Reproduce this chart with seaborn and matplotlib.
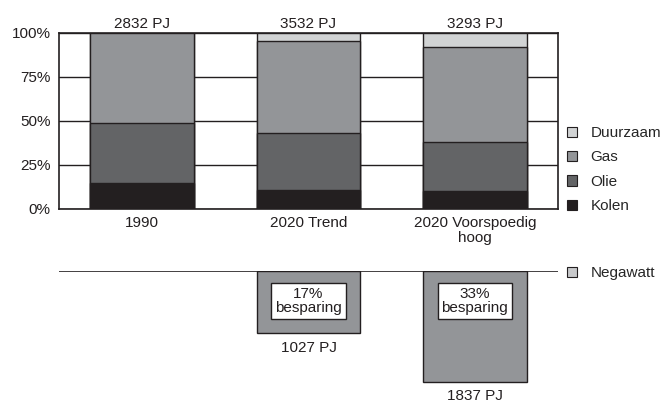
import matplotlib
matplotlib.use("Agg")
import matplotlib.pyplot as plt
from matplotlib.patches import Patch
import seaborn as sns
import pandas as pd
import numpy as np

sns.set_theme(style="white")
plt.rcParams['font.family'] = ['Liberation Sans', 'DejaVu Sans']

# ---- data ----
categories = ["1990", "2020 Trend", "2020 Voorspoedig\nhoog"]
kolen = [15, 11, 10]
olie = [34, 32, 28]
gas = [51, 52.5, 54]
duurzaam = [0, 4.5, 8]
totals_pj = ["2832 PJ", "3532 PJ", "3293 PJ"]
negawatt = [np.nan, 1027, 1837]
negawatt_labels = ["", "1027 PJ", "1837 PJ"]
besparing = ["", "17%\nbesparing", "33%\nbesparing"]
series_names = ["Duurzaam", "Gas", "Olie", "Kolen"]
colors = {"Duurzaam": "#d1d3d4", "Gas": "#939598", "Olie": "#636466", "Kolen": "#231f20"}
negawatt_color = "#939598"
negawatt_legend_color = "#c8c9cb"

FS = 11
W, H = 671, 403
fig = plt.figure(figsize=(W / 100, H / 100), dpi=100)

def axes_px(x0, y0, x1, y1):
    return fig.add_axes([x0 / W, 1 - y1 / H, (x1 - x0) / W, (y1 - y0) / H])

ax = axes_px(59, 33, 558, 209)
ax2 = axes_px(59, 271, 558, 391)

# cumulative stacks
k = np.array(kolen)
o = k + np.array(olie)
g = o + np.array(gas)
d = g + np.array(duurzaam)
layers = [("Duurzaam", d), ("Gas", g), ("Olie", o), ("Kolen", k)]
for name, vals in layers:
    df = pd.DataFrame({"cat": categories, "val": vals})
    sns.barplot(data=df, x="cat", y="val", color=colors[name], width=0.625,
                edgecolor="#231f20", linewidth=1.0, saturation=1, ax=ax, zorder=3)

ax.set_xlim(-0.5, 2.5)
ax.set_ylim(0, 100)
ax.set_yticks([0, 25, 50, 75, 100])
ax.set_yticklabels(["0%", "25%", "50%", "75%", "100%"])
ax.set_xlabel("")
ax.set_ylabel("")
ax.yaxis.grid(True, color="#231f20", linewidth=1.0)
ax.set_axisbelow(True)
for s in ax.spines.values():
    s.set_color("#231f20")
    s.set_linewidth(1.2)
ax.tick_params(axis="both", length=0, labelsize=FS, colors="#231f20")
ax.tick_params(axis="y", pad=6)
ax.tick_params(axis="x", pad=5)
for lbl in ax.get_xticklabels():
    lbl.set_linespacing(1.1)

for i, t in enumerate(totals_pj):
    ax.annotate(t, xy=(i, 100), xytext=(0, 1.5), textcoords="offset points",
                ha="center", va="bottom", fontsize=FS, color="#231f20")

# negawatt bars
dfn = pd.DataFrame({"cat": categories, "val": [-v for v in negawatt]})
sns.barplot(data=dfn, x="cat", y="val", color=negawatt_color, width=0.625,
            edgecolor="#231f20", linewidth=1.0, saturation=1, ax=ax2, zorder=3)
ax2.set_xlim(-0.5, 2.5)
ax2.set_ylim(-1990, 0)
ax2.axhline(0, color="#231f20", linewidth=1.2, zorder=4)
ax2.set_axis_off()
for i, v in enumerate(negawatt):
    if not (v > 0):
        continue
    ax2.annotate(negawatt_labels[i], xy=(i, -v), xytext=(0, -5.5), textcoords="offset points",
                 ha="center", va="top", fontsize=FS, color="#231f20")
    ax2.annotate(besparing[i], xy=(i, 0), xytext=(0, -21.5), textcoords="offset points",
                 ha="center", va="center", fontsize=FS, color="#231f20", linespacing=1.05,
                 bbox=dict(boxstyle="square,pad=0.25", facecolor="white",
                           edgecolor="#231f20", linewidth=1.0), zorder=5)

handles = [Patch(facecolor=colors[n], edgecolor="#231f20", linewidth=0.8, label=n)
           for n in series_names]
fig.legend(handles=handles, loc="upper left", bbox_to_anchor=(564 / W, 1 - 123 / H),
           frameon=False, fontsize=FS, handlelength=0.65, handleheight=0.65,
           handletextpad=0.9, labelspacing=0.68, borderaxespad=0, borderpad=0.2)
fig.legend(handles=[Patch(facecolor=negawatt_legend_color, edgecolor="#231f20",
                          linewidth=0.8, label="Negawatt")],
           loc="upper left", bbox_to_anchor=(564 / W, 1 - 263 / H),
           frameon=False, fontsize=FS, handlelength=0.65, handleheight=0.65,
           handletextpad=0.9, borderaxespad=0, borderpad=0.2)

fig.savefig("out.png", dpi=100, facecolor="white")
